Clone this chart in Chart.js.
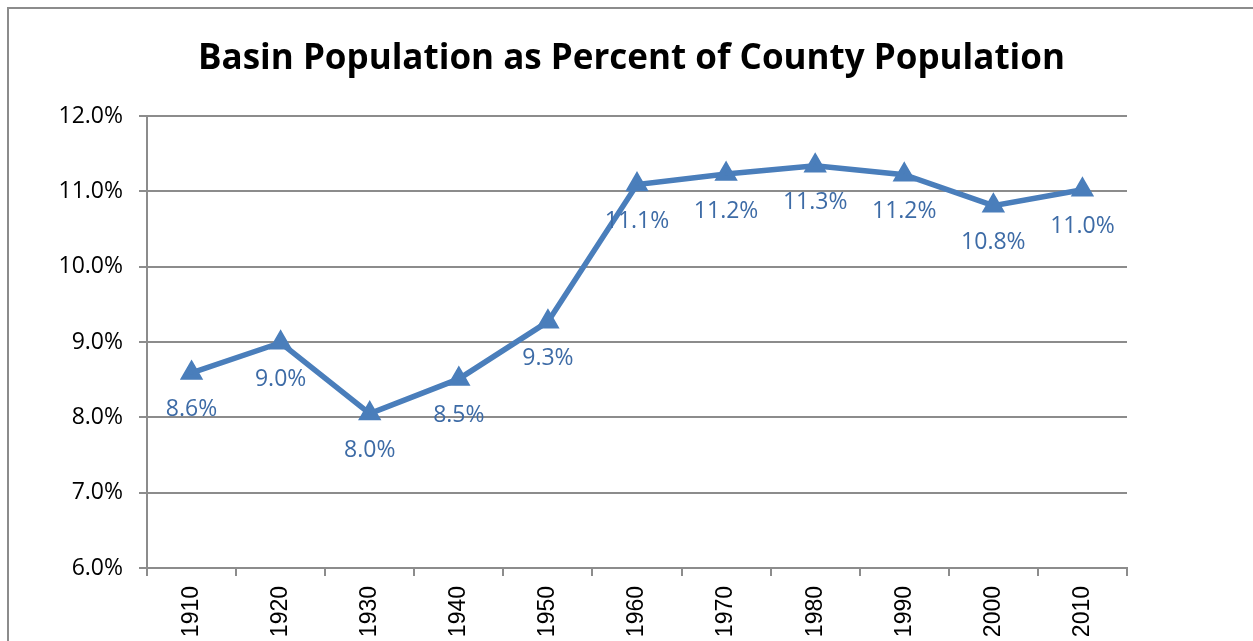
<!DOCTYPE html>
<html>
<head>
<meta charset="utf-8">
<script src="https://cdn.jsdelivr.net/npm/chart.js@4"></script>
<style>
    html, body { margin: 0; padding: 0; background: #fff; }
    #wrap { width: 1253px; height: 641px; position: relative; }
</style>
</head>
<body>
<div id="wrap"><canvas id="chart"></canvas></div>
<script>
const years = ["1910", "1920", "1930", "1940", "1950", "1960", "1970", "1980", "1990", "2000", "2010"];
const basin_pct = [8.59, 8.99, 8.05, 8.51, 9.27, 11.09, 11.23, 11.34, 11.22, 10.81, 11.02];
const pct_labels = ["8.6%", "9.0%", "8.0%", "8.5%", "9.3%", "11.1%", "11.2%", "11.3%", "11.2%", "10.8%", "11.0%"];

const GRID = "#8c8c8c";
const LINE = "#4a7ebb";

// frame around the chart (left and top edges are visible)
const frame_plugin = {
    id: "frame",
    beforeDraw(chart) {
        const c = chart.ctx;
        c.save();
        c.strokeStyle = "#8c8c8c";
        c.lineWidth = 2;
        c.beginPath();
        c.moveTo(8, chart.height);
        c.lineTo(8, 8);
        c.lineTo(chart.width, 8);
        c.stroke();
        c.restore();
    }
};

// value labels under each point
const label_plugin = {
    id: "pointlabels",
    afterDatasetsDraw(chart) {
        const c = chart.ctx;
        const meta = chart.getDatasetMeta(0);
        c.save();
        c.font = "23px 'Open Sans'";
        c.fillStyle = "#3d6ba6";
        c.textAlign = "center";
        c.textBaseline = "middle";
        meta.data.forEach((pt, i) => {
            c.fillText(pct_labels[i], pt.x, pt.y + 37);
        });
        c.restore();
    }
};

const chart = new Chart(document.getElementById("chart"), {
    type: "line",
    data: {
        labels: years,
        datasets: [{
            data: basin_pct,
            borderColor: LINE,
            backgroundColor: LINE,
            borderWidth: 5.5,
            pointStyle: "triangle",
            pointRadius: 8,
            pointHoverRadius: 8,
            tension: 0,
        }],
    },
    options: {
        responsive: true,
        maintainAspectRatio: false,
        animation: false,
        layout: { padding: { left: 10, right: 0, top: 0, bottom: 0 } },
        plugins: {
            legend: { display: false },
            tooltip: { enabled: false },
            title: {
                display: true,
                text: "Basin Population as Percent of County Population",
                color: "#000",
                font: { family: "'Open Sans'", size: 35, weight: "bold" },
                padding: { top: 38, bottom: 36 },
            },
        },
        scales: {
            x: {
                offset: true,
                grid: {
                    offset: true,
                    drawOnChartArea: false,
                    color: GRID,
                    lineWidth: 2,
                    tickLength: 8,
                },
                border: { color: GRID, width: 2 },
                ticks: {
                    color: "#000",
                    font: { family: "'Liberation Sans'", size: 23 },
                    minRotation: 90,
                    maxRotation: 90,
                    padding: 10,
                },
                afterFit(scale) { scale.height = 73; },
            },
            y: {
                min: 6,
                max: 12,
                grid: { color: GRID, lineWidth: 2, tickLength: 8 },
                border: { color: GRID, width: 2 },
                ticks: {
                    stepSize: 1,
                    color: "#000",
                    font: { family: "'Open Sans'", size: 23 },
                    padding: 16,
                    callback: v => v.toFixed(1) + "%",
                },
                afterFit(scale) { scale.width = 137; },
            },
            // empty right axis, only keeps the blank margin on the right
            yr: {
                position: "right",
                min: 6,
                max: 12,
                grid: { display: false },
                border: { display: false },
                ticks: { display: false },
                afterFit(scale) { scale.width = 126; },
            },
        },
    },
    plugins: [frame_plugin, label_plugin],
});
</script>
</body>
</html>
